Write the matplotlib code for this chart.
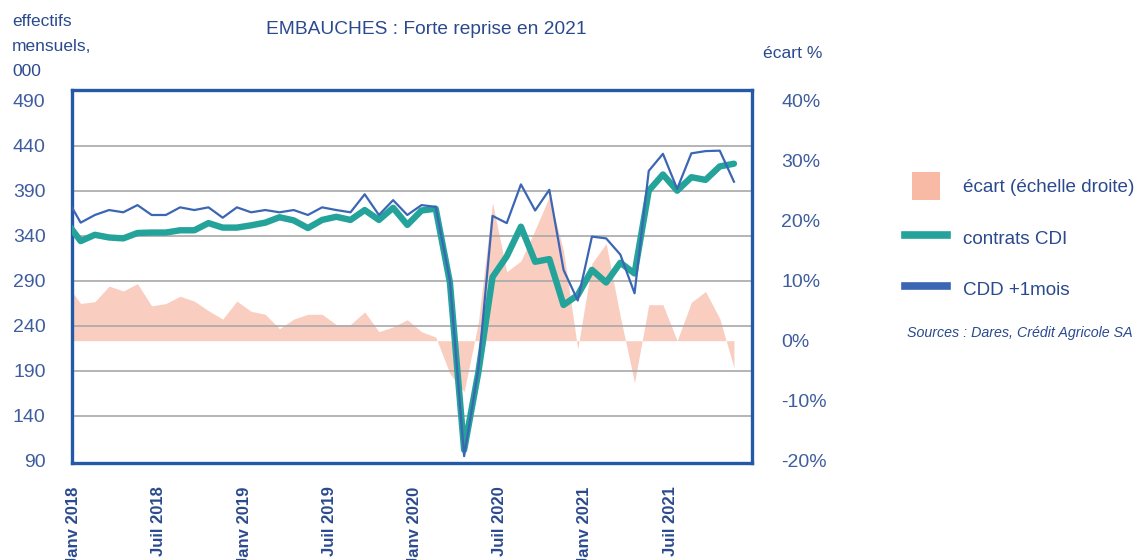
import numpy as np
import pandas as pd
import matplotlib
matplotlib.use('Agg')
import matplotlib.pyplot as plt
import matplotlib.transforms as mtransforms
from matplotlib.patches import Patch, Rectangle
from matplotlib.lines import Line2D
from matplotlib.legend_handler import HandlerPatch

# monthly series, Dec 2017 -> Nov 2021 (Dec 2017 is cut by the frame)
mois = pd.period_range('2017-12', '2021-11', freq='M')

cdi = [355, 334, 341, 338, 337, 343, 343.5, 343.5, 346, 346, 354, 349, 349,
       351.5, 354.5, 360.5, 357, 348.5, 357.5, 361, 357.5, 368.5, 357.5, 371, 352,
       368, 370, 288, 102, 188, 294, 317, 350, 311, 314, 263, 274,
       302, 288, 310, 298, 390, 408, 390, 405, 402, 417, 420]

cdd = [382, 354.5, 363, 368.5, 366, 374, 363, 363, 371.5, 368.5, 371.5, 360, 371.5,
       366, 368.5, 366, 368.5, 363, 371.5, 368.5, 366, 386, 363, 379.5, 363,
       374, 372, 290, 95, 192, 362, 354, 397, 368, 391, 302, 268,
       339, 337, 319, 276, 412, 431, 392, 431.5, 434, 434.5, 400]

ecart = [9.4, 6.2, 6.5, 9.1, 8.3, 9.5, 5.8, 6.2, 7.4, 6.6, 5.0, 3.6, 6.6,
         4.9, 4.4, 2.0, 3.6, 4.4, 4.4, 2.7, 2.7, 4.8, 1.5, 2.3, 3.5,
         1.5, 0.6, -5.5, -8.5, 3.0, 23.0, 11.5, 13.3, 18.5, 24.0, 15.0, -1.4,
         12.9, 16.2, 4.0, -7.0, 6.0, 6.0, 0.0, 6.4, 8.2, 3.7, -4.5]

left_ticks = [90, 140, 190, 240, 290, 340, 390, 440, 490]
right_ticks = [-20, -10, 0, 10, 20, 30, 40]

FONT = ['Liberation Sans', 'DejaVu Sans']
TXT = '#2b4a8e'
TICK = '#3f5d9e'
FRAME = '#2459a6'
TEAL = '#24a39b'
BLUE = '#3b66b4'
SALMON = '#f7b49f'

x = np.arange(len(mois))
tick_pos = [i for i, p in enumerate(mois) if p.month in (1, 7)]
tick_lab = [('Janv ' if mois[i].month == 1 else 'Juil ') + str(mois[i].year) for i in tick_pos]

fig = plt.figure(figsize=(11.39, 5.6), dpi=100)
ax = fig.add_axes([72 / 1139, 1 - 463 / 560, 680 / 1139, 373 / 560])
ax2 = ax.twinx()

# ecart area on right axis, behind the lines
ax2.fill_between(x, 0, ecart, color=SALMON, alpha=0.65, linewidth=0)
ax2.set_ylim(-20.39, 41.79)
ax2.set_yticks(right_ticks)
ax2.set_yticklabels([f'{v}%' for v in right_ticks], family=FONT, fontsize=14, color=TICK)
ax2.tick_params(axis='y', length=0, pad=21)
for s in ax2.spines.values():
    s.set_visible(False)

ax.set_zorder(ax2.get_zorder() + 1)
ax.patch.set_visible(False)

for v in left_ticks[1:-1]:
    ax.axhline(v, color='#a8a8a8', lw=1.2, zorder=1)

ax.plot(x, cdi, color=TEAL, lw=4.6, solid_joinstyle='round', solid_capstyle='round', zorder=3)
ax.plot(x, cdd, color=BLUE, lw=1.6, zorder=4)

ax.set_xlim(0.39, 48.27)
ax.set_ylim(87.4, 501.9)
ax.set_yticks(left_ticks)
ax.set_yticklabels([str(v) for v in left_ticks], family=FONT, fontsize=14, color=TICK)
ax.tick_params(axis='y', length=0, pad=19)
ax.set_xticks(tick_pos)
ax.set_xticklabels(tick_lab, rotation=90, family=FONT, fontsize=12, fontweight='bold',
                   color=TXT, ha='center', va='top')
ax.tick_params(axis='x', length=0, pad=17)
shift = mtransforms.ScaledTranslation(-7 / 100, 0, fig.dpi_scale_trans)
for lab in ax.get_xticklabels():
    lab.set_transform(lab.get_transform() + shift)

for s in ax.spines.values():
    s.set_color(FRAME)
    s.set_linewidth(2.4)

# texts
fig.text(426 / 1139, 1 - 30 / 560, 'EMBAUCHES : Forte reprise en 2021', family=FONT,
         fontsize=13.8, color=TXT, ha='center', va='center')
fig.text(12 / 1139, 1 - 14 / 560, 'effectifs\nmensuels,\n000', family=FONT,
         fontsize=12.5, color=TXT, ha='left', va='top', linespacing=1.85)
fig.text(763 / 1139, 1 - 53 / 560, 'écart %', family=FONT, fontsize=12.6,
         color=TXT, ha='left', va='center')
fig.text(907 / 1139, 1 - 333 / 560, 'Sources : Dares, Crédit Agricole SA', family=FONT,
         fontsize=10.3, style='italic', color=TXT, ha='left', va='center')


def square(legend, orig_handle, xdescent, ydescent, width, height, fontsize):
    side = height * 1.2
    return Rectangle((-xdescent + (width - side) / 2, -ydescent + (height - side) / 2),
                     side, side)


handles = [Patch(facecolor='#f8b9a5', edgecolor='none'),
           Line2D([], [], color=TEAL, lw=5.5),
           Line2D([], [], color=BLUE, lw=5.5)]
labels = ['écart (échelle droite)', 'contrats CDI', 'CDD +1mois']
leg = fig.legend(handles, labels, loc='upper left', bbox_to_anchor=(905 / 1139, 1 - 174 / 560),
                 frameon=False, borderpad=0, borderaxespad=0, handlelength=2.22,
                 handleheight=1.53, handletextpad=0.85, labelspacing=1.5,
                 prop={'family': FONT, 'size': 13.6},
                 handler_map={Patch: HandlerPatch(patch_func=square)})
for t in leg.get_texts():
    t.set_color(TXT)

fig.savefig('out.png', dpi=100)
